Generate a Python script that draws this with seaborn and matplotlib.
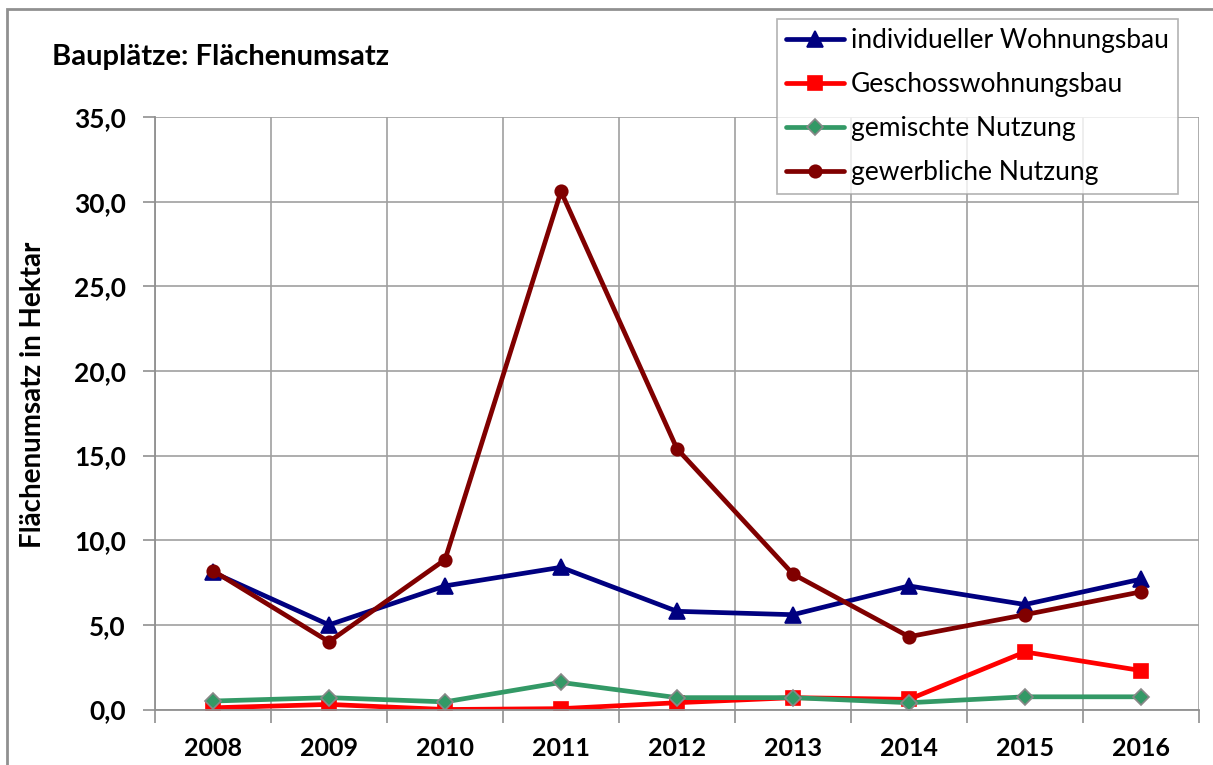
import matplotlib
matplotlib.use("Agg")
import matplotlib.pyplot as plt
import matplotlib.patches as mpatches
from matplotlib.ticker import FixedLocator, FuncFormatter
import numpy as np
import pandas as pd
import seaborn as sns

years = ["2008", "2009", "2010", "2011", "2012", "2013", "2014", "2015", "2016"]
individueller = [8.1, 5.0, 7.3, 8.4, 5.8, 5.6, 7.3, 6.2, 7.7]
geschoss = [0.1, 0.3, 0.0, 0.05, 0.4, 0.7, 0.6, 3.4, 2.3]
gemischt = [0.5, 0.7, 0.45, 1.6, 0.7, 0.7, 0.4, 0.75, 0.75]
gewerblich = [8.2, 4.0, 8.85, 30.6, 15.4, 8.0, 4.3, 5.6, 6.95]

series_names = ["individueller Wohnungsbau", "Geschosswohnungsbau",
                "gemischte Nutzung", "gewerbliche Nutzung"]

sns.set_theme(style="white")
plt.rcParams["font.family"] = ["Lato", "DejaVu Sans"]
plt.rcParams["text.color"] = "black"
plt.rcParams["xtick.color"] = "black"
plt.rcParams["ytick.color"] = "black"
plt.rcParams["axes.labelcolor"] = "black"

fig = plt.figure(figsize=(12.13, 7.65), dpi=100)
ax = fig.add_axes([155/1213, 1-709.5/765, (1199-155)/1213, (709.5-117)/765])

pos = np.arange(len(years))
styles = [
    (individueller, "#000080", "^", "#000080", 11),
    (geschoss, "#FF0000", "s", "#FF0000", 10),
    (gemischt, "#339966", "D", "#888888", 8),
    (gewerblich, "#800000", "o", "#800000", 9),
]
for (vals, col, mk, mec, ms), name in zip(styles, series_names):
    df = pd.DataFrame({"x": pos, "y": vals})
    sns.lineplot(data=df, x="x", y="y", ax=ax, color=col, linewidth=3.4,
                 marker=mk, markersize=ms, markeredgecolor=mec,
                 markeredgewidth=1.2, label=name)

ax.set_xlim(-0.5, len(years) - 0.5)
ax.set_ylim(0, 35)
ax.set_yticks(np.arange(0, 36, 5))
ax.yaxis.set_major_formatter(FuncFormatter(lambda v, p: f"{v:.1f}".replace(".", ",")))
ax.set_xticks(pos)
ax.set_xticklabels(years)
ax.xaxis.set_minor_locator(FixedLocator(np.arange(-0.5, len(years), 1.0)))

ax.grid(True, which="minor", axis="x", color="#A0A0A0", linewidth=1.2)
ax.grid(True, which="major", axis="y", color="#A0A0A0", linewidth=1.2)
ax.set_axisbelow(True)
for s in ["top", "right"]:
    ax.spines[s].set_visible(False)
for s in ["left", "bottom"]:
    ax.spines[s].set_color("#909090")
    ax.spines[s].set_linewidth(1.3)

ax.tick_params(axis="x", which="major", length=0, pad=20, labelsize=18)
ax.tick_params(axis="x", which="minor", length=9, width=1.2, color="#909090", direction="out", bottom=True)
ax.tick_params(axis="y", which="major", length=9, width=1.2, color="#909090", direction="out", left=True, pad=12, labelsize=19)
for lab in ax.get_xticklabels() + ax.get_yticklabels():
    lab.set_fontweight("bold")

ax.set_xlabel("")
ax.set_ylabel("Flächenumsatz in Hektar", fontsize=20, fontweight="bold")
ax.yaxis.set_label_coords(-(155 - 33)/1044, (709.5 - 395)/592.5)
ax.yaxis.label.set_va("center")

fig.text(52/1213, 1-57/765, "Bauplätze: Flächenumsatz", fontsize=21, fontweight="bold",
         va="center", ha="left")

leg = ax.legend(loc="upper left", bbox_to_anchor=(777/1213, 1-19/765), bbox_transform=fig.transFigure,
                frameon=True, fancybox=False, fontsize=19, handlelength=2.2, handletextpad=0.25,
                borderpad=0.35, labelspacing=0.72, borderaxespad=0)
leg.get_frame().set_edgecolor("#A0A0A0")
leg.get_frame().set_linewidth(1.2)

fig.patches.append(mpatches.Rectangle((7/1213, -0.1), 1.2, 1.1 - 9/765, transform=fig.transFigure,
                                      fill=False, edgecolor="#909090", linewidth=2.0, zorder=0))

fig.savefig("out.png", dpi=100)
